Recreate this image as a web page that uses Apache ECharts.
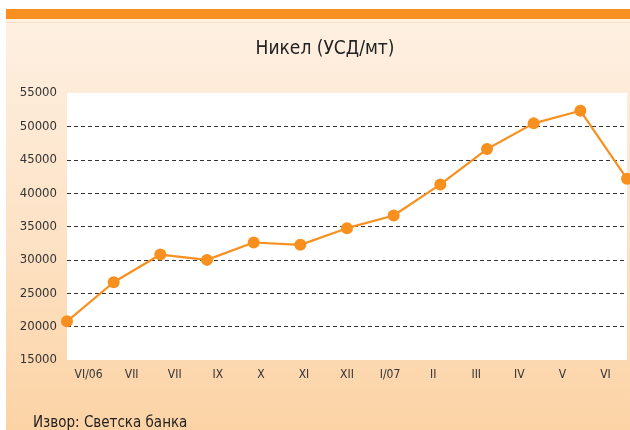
<!DOCTYPE html>
<html>
<head>
<meta charset="utf-8">
<script src="https://cdn.jsdelivr.net/npm/echarts@6/dist/echarts.min.js"></script>
<style>
html,body{margin:0;padding:0;background:#fff;}
#c{width:630px;height:430px;}
</style>
</head>
<body>
<div id="c"></div>
<script>
const categories = ['VI/06','VII','VII','IX','X','XI','XII','I/07','II','III','IV','V','VI'];
const nickelPrices = [20800, 26650, 30800, 30000, 32600, 32250, 34750, 36650, 41300, 46600, 50450, 52350, 42150];
const titleText = 'Никел (УСД/мт)';
const sourceText = 'Извор: Светска банка';
const yMin = 15000, yMax = 55000, yStep = 5000;

const FONT = "'Liberation Sans Narrow', 'Arial Narrow', 'DejaVu Sans Condensed', 'Liberation Sans', sans-serif";
const chart = echarts.init(document.getElementById('c'), null, {renderer:'canvas'});
chart.setOption({
  animation: false,
  backgroundColor: '#ffffff',
  graphic: [
    {type:'rect', z:-10, shape:{x:6,y:19,width:624,height:411},
     style:{fill:new echarts.graphic.LinearGradient(0,0,0,1,[
       {offset:0,color:'#fef0e2'},{offset:0.5,color:'#fde3c7'},{offset:1,color:'#fcd3a5'}])}},
    {type:'rect', z:-9, shape:{x:6,y:9,width:624,height:10}, style:{fill:'#f7901e'}},
    {type:'rect', z:-9, shape:{x:6,y:22,width:624,height:1}, style:{fill:'#fbe0c8'}}
  ],
  title: [
    {text:titleText, left:320, top:35, textAlign:'center',
     textStyle:{fontFamily:FONT, fontSize:19, fontWeight:'normal', color:'#222'}},
    {text:sourceText, left:28, top:411,
     textStyle:{fontFamily:FONT, fontSize:15, fontWeight:'normal', color:'#222'}}
  ],
  grid: {left:67, right:3, top:93, bottom:70, show:true, backgroundColor:'#ffffff', borderWidth:0},
  xAxis: [
    {type:'category', data:categories, boundaryGap:true, position:'bottom',
     axisLine:{show:false}, axisTick:{show:false},
     axisLabel:{fontFamily:FONT, fontSize:12, color:'#333', margin:9, interval:0}},
    {type:'category', data:categories, boundaryGap:false, position:'bottom',
     axisLine:{show:false}, axisTick:{show:false}, axisLabel:{show:false}}
  ],
  yAxis: {
    type:'value', min:yMin, max:yMax, interval:yStep,
    axisLine:{show:false}, axisTick:{show:false},
    axisLabel:{fontFamily:FONT, fontSize:13, color:'#333', margin:10,
      formatter: v => String(v)},
    splitLine:{show:true, showMinLine:false, showMaxLine:false,
      lineStyle:{color:'#333', width:1.2, type:[4,3]}}
  },
  series: [{
    type:'line', xAxisIndex:1, data:nickelPrices,
    lineStyle:{color:'#f7901e', width:2.2},
    itemStyle:{color:'#f7901e'},
    symbol:'circle', symbolSize:12, showAllSymbol:true
  }]
});
</script>
</body>
</html>
